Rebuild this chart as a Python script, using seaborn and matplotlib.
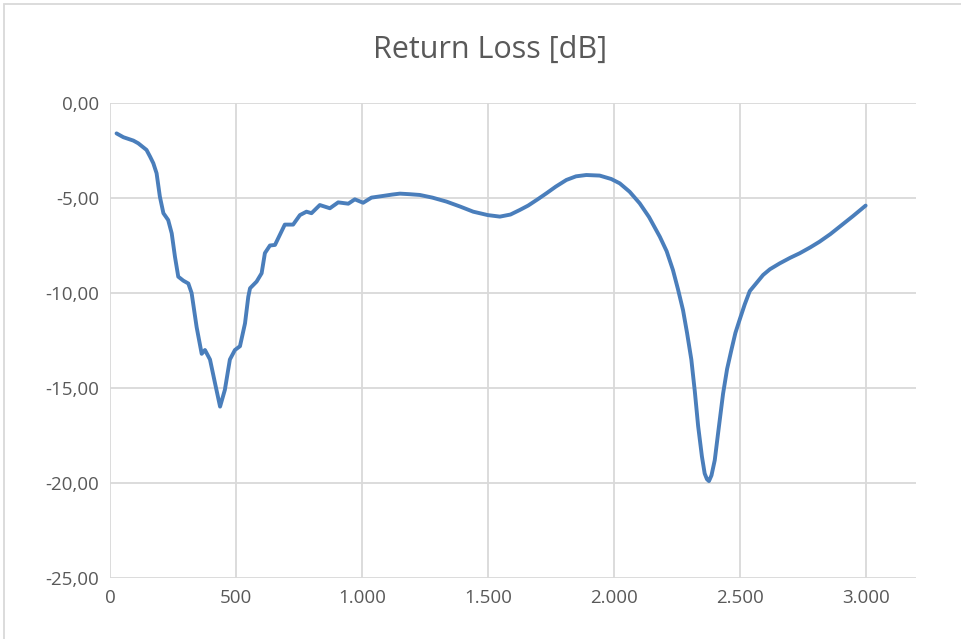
import matplotlib
matplotlib.use("Agg")
import matplotlib.pyplot as plt
import matplotlib.ticker as mticker
from matplotlib.patches import Rectangle
import seaborn as sns
import pandas as pd

# frequency [MHz] and return loss [dB]
freq = [26, 53, 93, 112, 145, 159, 172, 185, 198, 212, 231, 245, 258, 271, 291,
        311, 324, 344, 364, 377, 397, 417, 437, 456, 476, 496, 516, 536, 549, 556,
        582, 602, 615, 635, 655, 694, 727, 754, 780, 800, 833, 873, 906, 946, 972,
        1005, 1038, 1085, 1120, 1151, 1190, 1230, 1280, 1336, 1390, 1442, 1500, 1548,
        1590, 1627, 1660, 1700, 1733, 1770, 1812, 1850, 1891, 1944, 1990, 2024, 2063,
        2103, 2140, 2183, 2210, 2235, 2255, 2275, 2291, 2308, 2322, 2335, 2350, 2361,
        2370, 2378, 2388, 2401, 2415, 2434, 2450, 2467, 2483, 2500, 2520, 2540, 2565,
        2593, 2620, 2659, 2700, 2738, 2780, 2817, 2860, 2897, 2950, 3000]
rl = [-1.6, -1.8, -1.98, -2.12, -2.47, -2.82, -3.17, -3.7, -4.93, -5.8, -6.16, -6.86,
      -8.1, -9.14, -9.35, -9.5, -10.0, -11.8, -13.2, -13.0, -13.5, -14.75, -15.98,
      -15.1, -13.5, -13.0, -12.8, -11.6, -10.2, -9.75, -9.4, -8.96, -7.9, -7.5, -7.47,
      -6.4, -6.4, -5.9, -5.72, -5.8, -5.37, -5.54, -5.23, -5.3, -5.07, -5.25, -4.98,
      -4.89, -4.82, -4.77, -4.8, -4.84, -4.98, -5.19, -5.45, -5.72, -5.9, -5.98,
      -5.87, -5.63, -5.4, -5.05, -4.75, -4.4, -4.05, -3.86, -3.79, -3.82, -4.0,
      -4.23, -4.67, -5.28, -6.0, -7.04, -7.8, -8.79, -9.8, -10.9, -12.1, -13.5,
      -15.2, -17.0, -18.6, -19.5, -19.8, -19.9, -19.6, -18.8, -17.3, -15.3, -14.0,
      -13.0, -12.1, -11.4, -10.6, -9.9, -9.5, -9.05, -8.75, -8.44, -8.15, -7.91,
      -7.6, -7.3, -6.9, -6.51, -5.95, -5.4]

x_ticks = [0, 500, 1000, 1500, 2000, 2500, 3000]
y_ticks = [0, -5, -10, -15, -20, -25]

df = pd.DataFrame({"freq": freq, "rl": rl})

sns.set_theme(style="whitegrid")
plt.rcParams["font.family"] = ["Open Sans", "DejaVu Sans"]

fig = plt.figure(figsize=(9.62, 6.39), dpi=100)
ax = fig.add_axes([110 / 962, 1 - 578 / 639, (916 - 110) / 962, (578 - 103) / 639])

sns.lineplot(data=df, x="freq", y="rl", ax=ax, color="#4a7ebb", linewidth=2.8,
             sort=False, estimator=None)

ax.set_xlim(0, 3200)
ax.set_ylim(-25, 0)
ax.set_xticks(x_ticks)
ax.set_yticks(y_ticks)
ax.xaxis.set_major_formatter(mticker.FuncFormatter(lambda v, p: f"{int(v):,}".replace(",", ".")))
ax.yaxis.set_major_formatter(mticker.FuncFormatter(lambda v, p: f"{v:.2f}".replace(".", ",")))
ax.grid(True, color="#d9d9d9", linewidth=1.3)
ax.set_facecolor("white")
for s in ax.spines.values():
    s.set_visible(False)
ax.tick_params(axis="both", length=0, labelsize=13.5, labelcolor="#595959", pad=8)
ax.set_xlabel("")
ax.set_ylabel("")

fig.text(490 / 962, 1 - 50 / 639, "Return Loss [dB]", ha="center", va="center",
         fontsize=22, color="#595959")

# chart border
fig.patches.append(Rectangle((4 / 962, -0.1), 1.2, 1.1 - 4 / 639, transform=fig.transFigure,
                             fill=False, edgecolor="#d9d9d9", linewidth=1.3))

fig.savefig("out.png", dpi=100, facecolor="white")
